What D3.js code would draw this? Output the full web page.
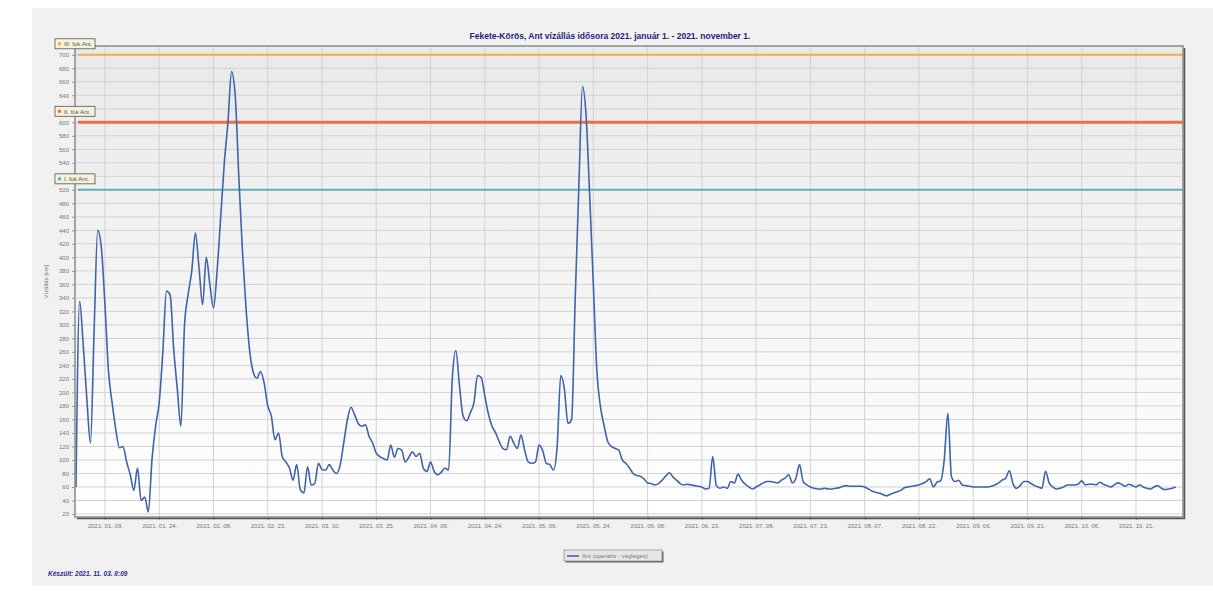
<!DOCTYPE html>
<html>
<head>
<meta charset="utf-8">
<script src="https://cdn.jsdelivr.net/npm/d3@7"></script>
<style>
  body { margin: 0; background: #fff; }
  svg { display: block; font-family: "Liberation Sans", Arial, sans-serif; }
</style>
</head>
<body>
<svg id="chart" width="1213" height="596"></svg>
<script>
// daily water levels (cm), 2021-01-01 .. 2021-11-01
var startDate = "2021-01-01";
var levels = [
  60,335,270,190,125,290,440,415,330,230,
  184,145,118,120,97,78,55,88,40,45,
  23,100,150,185,260,350,345,265,205,150,
  300,345,380,436,385,330,400,360,325,380,
  460,540,600,675,640,520,410,325,262,230,
  221,231,214,180,165,130,140,105,97,88,
  70,93,56,51,90,63,65,95,86,85,
  93,85,80,92,125,159,178,167,154,150,
  152,135,125,110,105,102,100,122,104,117,
  115,97,104,112,105,110,88,83,97,83,
  78,82,88,85,219,262,210,165,158,170,
  185,225,222,195,168,150,140,127,117,115,
  135,125,117,137,115,97,95,97,122,114,
  95,93,85,120,225,205,154,160,340,505,
  653,610,490,360,230,178,150,127,120,117,
  115,100,95,88,80,77,76,72,66,65,
  63,65,70,76,81,75,70,65,63,64,
  63,62,61,60,57,58,105,62,58,60,
  58,68,66,79,70,64,60,57,60,63,
  66,68,68,67,66,70,73,78,66,73,
  93,68,63,60,58,57,57,58,57,57,
  58,59,61,62,61,61,61,61,60,57,
  54,52,51,49,47,49,51,53,55,59,
  60,61,62,63,65,68,72,60,67,69,
  100,169,75,68,70,63,62,61,60,60,
  60,60,60,61,63,66,70,73,84,65,
  58,62,68,68,65,62,60,58,83,66,
  60,57,58,60,63,63,63,64,69,63,
  64,64,63,67,64,62,60,63,66,64,
  61,64,62,60,63,60,58,57,60,62,
  58,56,57,58,60
];

var thresholdNames = ["III. fok Ant.", "II. fok Ant.", "I. fok Ant."];
var thresholdValues = [700, 600, 500];
var thresholdColors = ["#f4ab4c", "#ea7145", "#5fb0bd"];
var thresholdWidths = [2, 3, 2];

var xTickDates = ["2021-01-09","2021-01-24","2021-02-08","2021-02-23","2021-03-10",
  "2021-03-25","2021-04-09","2021-04-24","2021-05-09","2021-05-24","2021-06-08",
  "2021-06-23","2021-07-08","2021-07-23","2021-08-07","2021-08-22","2021-09-06",
  "2021-09-21","2021-10-06","2021-10-21"];
var yTicks = d3.range(20, 701, 20);

var titleText = "Fekete-Körös, Ant vízállás idősora 2021. január 1. - 2021. november 1.";
var legendText = "Ant (operatív - végleges)";
var madeText = "Készült: 2021. 11. 03. 8:09";

var parse = d3.timeParse("%Y-%m-%d");
var t0 = parse(startDate);
var data = levels.map(function(v, i) { return {date: d3.timeDay.offset(t0, i), value: v}; });

var svg = d3.select("#chart");
var plot = {left: 75, right: 1183, top: 46, bottom: 517};

var defs = svg.append("defs");
var bg = defs.append("linearGradient").attr("id", "plotBg").attr("x1", 0).attr("y1", 0).attr("x2", 0).attr("y2", 1);
bg.append("stop").attr("offset", "0%").attr("stop-color", "#e9e9e9");
bg.append("stop").attr("offset", "100%").attr("stop-color", "#ffffff");

// outer panel
svg.append("rect").attr("x", 32).attr("y", 8).attr("width", 1181).attr("height", 578).attr("fill", "#f1f1f1");

var x = d3.scaleTime()
    .domain([t0, d3.timeDay.offset(t0, 306)])
    .range([plot.left + 1, plot.right]);
var y = d3.scaleLinear()
    .domain([15.5, 713])
    .range([plot.bottom, plot.top]);

svg.append("rect")
    .attr("x", plot.left).attr("y", plot.top)
    .attr("width", plot.right - plot.left).attr("height", plot.bottom - plot.top)
    .attr("fill", "url(#plotBg)");

// grid
svg.append("g").selectAll("line").data(yTicks).enter().append("line")
    .attr("x1", plot.left).attr("x2", plot.right)
    .attr("y1", function(d) { return y(d); }).attr("y2", function(d) { return y(d); })
    .attr("stroke", "#d2d2d2").attr("stroke-width", 1);
svg.append("g").selectAll("line").data(xTickDates).enter().append("line")
    .attr("x1", function(d) { return x(parse(d)); }).attr("x2", function(d) { return x(parse(d)); })
    .attr("y1", plot.top).attr("y2", plot.bottom)
    .attr("stroke", "#d2d2d2").attr("stroke-width", 1);

// axes
var yAxis = svg.append("g")
    .attr("transform", "translate(" + plot.left + ",0)")
    .call(d3.axisLeft(y).tickValues(yTicks).tickSize(3));
yAxis.select(".domain").remove();
yAxis.selectAll("line").attr("stroke", "#999");
yAxis.selectAll("text").attr("fill", "#777").style("font-size", "6px");
// the threshold label boxes sit on top of these two tick labels
yAxis.selectAll(".tick").filter(function(d) { return d === 520 || d === 620; })
    .select("text").remove();

var xAxis = svg.append("g")
    .attr("transform", "translate(0," + plot.bottom + ")")
    .call(d3.axisBottom(x).tickValues(xTickDates.map(parse)).tickSize(3)
      .tickFormat(d3.timeFormat("%Y. %m. %d.")));
xAxis.select(".domain").remove();
xAxis.selectAll("line").attr("stroke", "#999");
xAxis.selectAll("text").attr("fill", "#777").style("font-size", "6px").attr("dy", "0.9em");

svg.append("text")
    .attr("transform", "translate(48," + ((plot.top + plot.bottom) / 2) + ") rotate(-90)")
    .attr("text-anchor", "middle")
    .attr("fill", "#777").style("font-size", "6px")
    .text("Vízállás [cm]");

// thresholds
thresholdValues.forEach(function(v, i) {
  svg.append("line")
      .attr("x1", plot.left + 3).attr("x2", plot.right)
      .attr("y1", y(v)).attr("y2", y(v))
      .attr("stroke", thresholdColors[i]).attr("stroke-width", thresholdWidths[i]);
});

// series
var line = d3.line()
    .curve(d3.curveMonotoneX)
    .x(function(d) { return x(d.date); })
    .y(function(d) { return y(d.value); });
svg.append("path").datum(data)
    .attr("fill", "none")
    .attr("stroke", "#4063ab")
    .attr("stroke-width", 1.6)
    .attr("stroke-linejoin", "round")
    .attr("d", line);

// frame
svg.append("rect")
    .attr("x", plot.left).attr("y", plot.top)
    .attr("width", plot.right - plot.left).attr("height", plot.bottom - plot.top)
    .attr("fill", "none").attr("stroke", "#8a8a8a").attr("stroke-width", 1.5);
svg.append("path")
    .attr("d", "M" + (plot.left + 2) + "," + (plot.bottom + 1.5) + "H" + (plot.right + 1.5) + "V" + (plot.top + 2))
    .attr("fill", "none").attr("stroke", "#555").attr("stroke-width", 1.5);

// threshold labels
thresholdValues.forEach(function(v, i) {
  var g = svg.append("g").attr("transform", "translate(55," + (y(v) - 16) + ")");
  g.append("rect").attr("width", 40).attr("height", 10)
      .attr("fill", "#f4f1dc").attr("stroke", "#555").attr("stroke-width", 0.8);
  g.append("rect").attr("x", 3).attr("y", 3.5).attr("width", 3).attr("height", 3)
      .attr("fill", thresholdColors[i]);
  g.append("text").attr("x", 9).attr("y", 7.5)
      .attr("fill", "#555").style("font-size", "6px")
      .text(thresholdNames[i]);
});

// title
svg.append("text")
    .attr("x", 610).attr("y", 39)
    .attr("text-anchor", "middle")
    .attr("fill", "#1f1f7a")
    .style("font-size", "8.5px").style("font-weight", "bold")
    .text(titleText);

// legend
var lg = svg.append("g").attr("transform", "translate(564,550)");
lg.append("rect").attr("x", 1.5).attr("y", 1.5).attr("width", 98).attr("height", 11).attr("fill", "#666");
lg.append("rect").attr("width", 98).attr("height", 11)
    .attr("fill", "#e6e6e6").attr("stroke", "#888").attr("stroke-width", 0.7);
lg.append("line").attr("x1", 3).attr("x2", 15).attr("y1", 6).attr("y2", 6)
    .attr("stroke", "#4063ab").attr("stroke-width", 1.6);
lg.append("text").attr("x", 18).attr("y", 8)
    .attr("fill", "#777").style("font-size", "6px").text(legendText);

// footer
svg.append("text")
    .attr("x", 48).attr("y", 576)
    .attr("fill", "#2a2a9a")
    .style("font-size", "6.5px").style("font-style", "italic").style("font-weight", "bold")
    .text(madeText);
</script>
</body>
</html>
